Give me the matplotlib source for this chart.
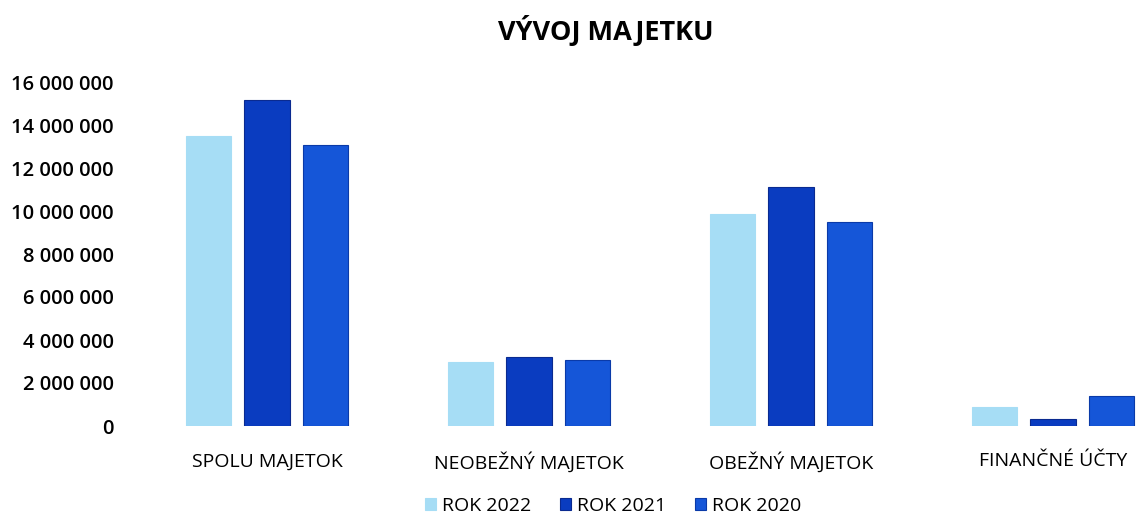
import matplotlib
matplotlib.use("Agg")
import matplotlib.pyplot as plt
import numpy as np
from matplotlib.ticker import FuncFormatter

kategorie = ["SPOLU MAJETOK", "NEOBEŽNÝ MAJETOK", "OBEŽNÝ MAJETOK", "FINANČNÉ ÚČTY"]
roky = ["ROK 2022", "ROK 2021", "ROK 2020"]
rok_2022 = [13500000, 2980000, 9860000, 880000]
rok_2021 = [15160000, 3200000, 11100000, 330000]
rok_2020 = [13080000, 3070000, 9490000, 1400000]
hodnoty = [rok_2022, rok_2021, rok_2020]
farby = ["#a6ddf5", "#0a3cc0", "#1556d8"]
okraje = ["#a6ddf5", "#0a2a90", "#0a3aa8"]

plt.rcParams["font.family"] = ["Open Sans", "DejaVu Sans"]

fig = plt.figure(figsize=(11.42, 5.15), dpi=100)
# os presahuje pravy okraj obrazka (orezany sken)
ax = fig.add_axes([136 / 1142, 89 / 515, 1048 / 1142, 344 / 515])

x = np.arange(len(kategorie))
posun = 0.225
sirka = 0.172
for i, (rok, data) in enumerate(zip(roky, hodnoty)):
    ax.bar(
        x + (i - 1) * posun,
        data,
        width=sirka,
        color=farby[i],
        edgecolor=okraje[i],
        linewidth=0.8,
        label=rok
    )

ax.set_xlim(-0.5, 3.5)
ax.set_ylim(0, 16000000)
ax.set_yticks(np.arange(0, 16000001, 2000000))
ax.yaxis.set_major_formatter(
    FuncFormatter(lambda v, p: f"{int(v):,}".replace(",", " "))
)
ax.set_xticks(x)
ax.set_xticklabels(kategorie)
ax.tick_params(axis="y", length=0, pad=16, labelsize=14.5)
ax.tick_params(axis="x", length=0, pad=19, labelsize=14)
for lab in ax.get_yticklabels():
    lab.set_fontweight("semibold")
for s in ax.spines.values():
    s.set_visible(False)

fig.text(0.53, 0.94, "VÝVOJ MAJETKU", ha="center", va="center",
         fontsize=19.5, fontweight="bold")

fig.legend(
    loc="center", bbox_to_anchor=(0.537, 0.018), ncol=3, frameon=False,
    fontsize=14, handlelength=0.55, handleheight=0.55, handletextpad=0.3,
    columnspacing=1.5
)

plt.savefig("out.png", dpi=100)
plt.close()
